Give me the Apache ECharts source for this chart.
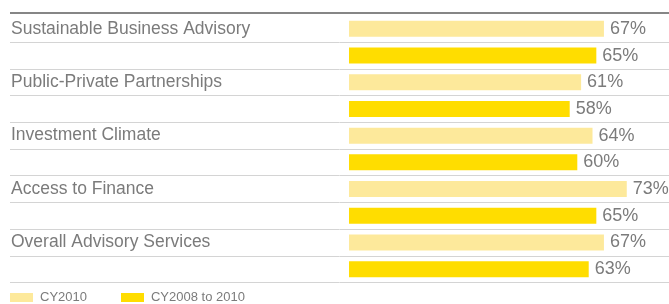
<!DOCTYPE html>
<html>
<head>
<meta charset="utf-8">
<script src="https://cdn.jsdelivr.net/npm/echarts@6/dist/echarts.min.js"></script>
<style>
html,body{margin:0;padding:0;background:#fff;}
#c{width:669px;height:304px;}
</style>
</head>
<body>
<div id="c"></div>
<script>
const categories = ["Sustainable Business Advisory", "Public-Private Partnerships", "Investment Climate", "Access to Finance", "Overall Advisory Services"];
const cy2010 = [67, 61, 64, 73, 67];
const cy2008to2010 = [65, 58, 60, 65, 63];
const seriesNames = ["CY2010", "CY2008 to 2010"];

// Each category gets two rows: the first carries the label and the CY2010 bar, the second the CY2008 to 2010 bar.
const slotLabels = [];
const slotA = [];
const slotB = [];
categories.forEach((c, i) => {
  slotLabels.push(c); slotLabels.push('');
  slotA.push(cy2010[i]); slotA.push('-');
  slotB.push('-'); slotB.push(cy2008to2010[i]);
});

const FONT = "'Liberation Sans', Arial, sans-serif";
const TXT = '#7b7b7b';

const chart = echarts.init(document.getElementById('c'), null, {renderer: 'canvas'});
chart.setOption({
  animation: false,
  textStyle: {fontFamily: FONT},
  grid: {left: 10, right: 0, top: 15.5, height: 267, containLabel: false},
  xAxis: {
    type: 'value', min: -89.1, max: 84.1, show: false
  },
  yAxis: {
    type: 'category', inverse: true, data: slotLabels,
    axisLine: {show: false, onZero: false}, axisTick: {show: false},
    axisLabel: {interval: 0, align: 'left', margin: -1, color: TXT, fontSize: 17.5, fontFamily: FONT, padding: [0, 0, 2, 0]},
    splitLine: {show: true, interval: function (idx) { return idx !== 0; }, lineStyle: {color: '#d4d4d4', width: 1}}
  },
  legend: {
    left: 10, top: 291, padding: 0, itemWidth: 23, itemHeight: 9, itemGap: 34, icon: 'rect',
    textStyle: {color: TXT, fontSize: 13, fontFamily: FONT, padding: [0, 0, 0, 2]},
    data: seriesNames
  },
  graphic: [{
    type: 'rect', shape: {x: 10, y: 12, width: 659, height: 2}, style: {fill: '#868686'}, silent: true
  }],
  series: [
    {
      name: seriesNames[0], type: 'bar', data: slotA, barWidth: 16, barGap: '-100%',
      itemStyle: {color: '#FDE99B'},
      label: {show: true, position: 'right', distance: 6, formatter: '{c}%', color: TXT, fontSize: 18, fontFamily: FONT}
    },
    {
      name: seriesNames[1], type: 'bar', data: slotB, barWidth: 16, barGap: '-100%',
      itemStyle: {color: '#FFDD00'},
      label: {show: true, position: 'right', distance: 6, formatter: '{c}%', color: TXT, fontSize: 18, fontFamily: FONT}
    }
  ]
});
</script>
</body>
</html>
